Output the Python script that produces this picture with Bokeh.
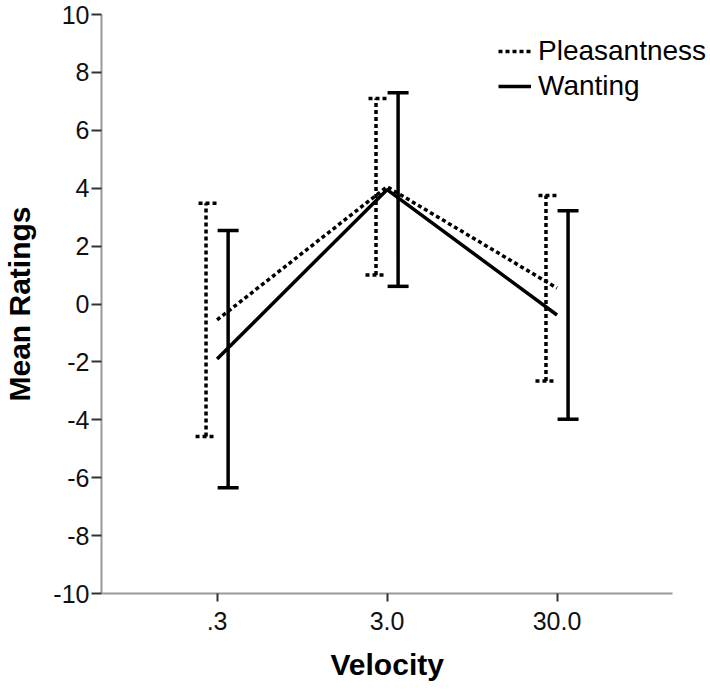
from bokeh.plotting import figure
from bokeh.models import Range1d, FixedTicker, Whisker, TeeHead, ColumnDataSource, Legend, LegendItem, Title
from bokeh.embed import file_html
from bokeh.resources import INLINE

categories = [".3", "3.0", "30.0"]
pleas_mean = [-0.55, 4.05, 0.55]
pleas_lower = [-4.58, 1.0, -2.66]
pleas_upper = [3.48, 7.1, 3.75]
want_mean = [-1.9, 3.95, -0.38]
want_lower = [-6.35, 0.61, -3.98]
want_upper = [2.54, 7.3, 3.22]
y_ticks = list(range(-10, 11, 2))

idx = list(range(len(categories)))
off = 0.065
FONT = "Liberation Sans"
x_lo, x_hi = -0.68, 2.68

p = figure(width=710, height=696, output_backend="svg", toolbar_location=None,
           x_range=Range1d(x_lo, 2.903), y_range=Range1d(-10, 10),
           min_border_left=100, min_border_right=0, min_border_top=14, min_border_bottom=103)
p.outline_line_color = None
p.xgrid.visible = False
p.ygrid.visible = False

ps = ColumnDataSource(dict(x=idx, xe=[i - off for i in idx], m=pleas_mean, lo=pleas_lower, up=pleas_upper))
ws = ColumnDataSource(dict(x=idx, xe=[i + off for i in idx], m=want_mean, lo=want_lower, up=want_upper))

lp = p.line("x", "m", source=ps, line_color="black", line_width=3.5, line_dash="4 3")
lw = p.line("x", "m", source=ws, line_color="black", line_width=3.5)

wp = Whisker(base="xe", lower="lo", upper="up", source=ps, dimension="height",
             line_color="black", line_width=3.5, line_dash="4 3",
             upper_head=TeeHead(size=21, line_color="black", line_width=3.5, line_dash="4 3"),
             lower_head=TeeHead(size=21, line_color="black", line_width=3.5, line_dash="4 3"))
ww = Whisker(base="xe", lower="lo", upper="up", source=ws, dimension="height",
             line_color="black", line_width=3.5,
             upper_head=TeeHead(size=21, line_color="black", line_width=3.5),
             lower_head=TeeHead(size=21, line_color="black", line_width=3.5))
p.add_layout(wp)
p.add_layout(ww)

legend = Legend(items=[LegendItem(label="Pleasantness", renderers=[lp]),
                       LegendItem(label="Wanting", renderers=[lw])],
                location=(397, 491), border_line_color=None, background_fill_alpha=0,
                padding=0, margin=0, spacing=3, glyph_width=33, glyph_height=30,
                label_height=30, label_standoff=7,
                label_text_font=FONT, label_text_font_size="28px", label_text_color="black")
p.add_layout(legend)

for ax in (p.xaxis[0], p.yaxis[0]):
    ax.axis_line_color = "#999999"
    ax.axis_line_width = 2
    ax.major_tick_line_color = "#333333"
    ax.major_tick_line_width = 2
    ax.minor_tick_line_color = None
    ax.major_tick_in = 0
    ax.major_label_text_font = FONT
    ax.major_label_text_font_size = "25px"
    ax.major_label_text_color = "#111111"
    ax.axis_label_text_font = FONT
    ax.axis_label_text_font_style = "bold"
    ax.axis_label_text_font_size = "30px"
    ax.axis_label_text_color = "black"

p.yaxis.ticker = FixedTicker(ticks=y_ticks)
p.yaxis.major_label_overrides = {t: str(t) for t in y_ticks}
p.yaxis.major_tick_out = 10
p.yaxis.major_label_standoff = 2
p.yaxis.axis_label = "Mean Ratings"
p.yaxis.axis_label_standoff = 14

p.xaxis.bounds = (x_lo, x_hi)
p.xaxis.ticker = FixedTicker(ticks=idx)
p.xaxis.major_label_overrides = {i: c for i, c in zip(idx, categories)}
p.xaxis.major_tick_out = 8
p.xaxis.major_label_standoff = 10

xtitle = Title(text="Velocity", align="left", offset=229, standoff=27,
               text_font=FONT, text_font_size="30px", text_font_style="bold", text_color="black")
p.add_layout(xtitle, "below")

open("out.html", "w").write(file_html(p, INLINE))
